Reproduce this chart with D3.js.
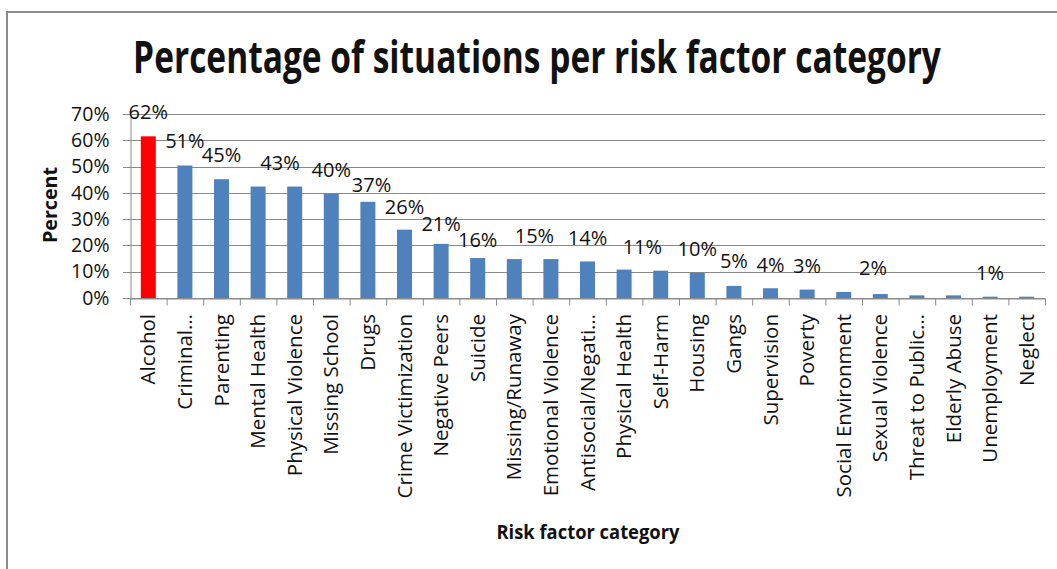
<!DOCTYPE html>
<html>
<head>
<meta charset="utf-8">
<script src="https://cdn.jsdelivr.net/npm/d3@7"></script>
<style>
  html, body { margin: 0; padding: 0; background: #fff; }
  svg { display: block; }
  text { font-family: "Open Sans", "Noto Sans", sans-serif; fill: #111; }
</style>
</head>
<body>
<svg id="chart" width="1057" height="569"></svg>
<script>
// ---- data ----
const categories = [
  "Alcohol", "Criminal\u2026", "Parenting", "Mental Health", "Physical Violence",
  "Missing School", "Drugs", "Crime Victimization", "Negative Peers", "Suicide",
  "Missing/Runaway", "Emotional Violence", "Antisocial/Negati\u2026", "Physical Health", "Self-Harm",
  "Housing", "Gangs", "Supervision", "Poverty", "Social Environment",
  "Sexual Violence", "Threat to Public\u2026", "Elderly Abuse", "Unemployment", "Neglect"
];
const values = [
  0.615, 0.504, 0.452, 0.424, 0.424,
  0.397, 0.366, 0.260, 0.206, 0.152,
  0.148, 0.148, 0.139, 0.108, 0.104,
  0.096, 0.046, 0.037, 0.032, 0.023,
  0.015, 0.010, 0.010, 0.005, 0.005
];
const highlighted = ["Alcohol"];
const yTicks = [0, 0.1, 0.2, 0.3, 0.4, 0.5, 0.6, 0.7];
// data labels as placed in the original (category position, value level)
const labelTexts  = ["62%","51%","45%","43%","40%","37%","26%","21%","16%","15%","14%","11%","10%","5%","4%","3%","2%","1%"];
const labelAt     = [0, 1, 2, 3.6, 5, 6.1, 7, 8, 9, 10.55, 12, 13.5, 15, 16, 17, 18, 19.8, 23];
const labelLevel  = [0.681, 0.571, 0.518, 0.487, 0.461, 0.404, 0.320, 0.256, 0.195, 0.210, 0.203, 0.168, 0.161, 0.115, 0.100, 0.096, 0.088, 0.070];
const titleText = "Percentage of situations per risk factor category";
const yTitle = "Percent";
const xTitle = "Risk factor category";

// ---- layout ----
const svg = d3.select("#chart");
const plot = { left: 130, right: 1045, top: 114, bottom: 298 };
const gridColor = "#8a8a8a";
const blue = "#4f81bd", red = "#ff0000";

// outer chart border
svg.append("rect")
  .attr("x", 7).attr("y", 12).attr("width", 1070).attr("height", 600)
  .attr("fill", "none").attr("stroke", "#8c8c8c").attr("stroke-width", 2);

const x = d3.scaleBand().domain(categories).range([plot.left, plot.right]).padding(0);
const xPos = d3.scaleLinear().domain([0, categories.length]).range([plot.left, plot.right]);
const y = d3.scaleLinear().domain([0, 0.7]).range([plot.bottom, plot.top]);

// gridlines
svg.append("g").selectAll("line").data(yTicks).join("line")
  .attr("x1", plot.left - 7).attr("x2", plot.right)
  .attr("y1", d => Math.round(y(d)) + 0.5).attr("y2", d => Math.round(y(d)) + 0.5)
  .attr("stroke", gridColor).attr("stroke-width", 1);

// y axis
const yAxis = d3.axisLeft(y).tickValues(yTicks).tickFormat(d3.format(".0%")).tickSize(0).tickPadding(21);
const gy = svg.append("g").attr("transform", `translate(${plot.left + 0.5},0)`).call(yAxis);
gy.select(".domain").attr("stroke", gridColor);
gy.selectAll("text").attr("font-size", "19.5px").attr("font-family", "Open Sans").attr("fill", "#111");

// bars
const barW = x.bandwidth() * 0.41;
svg.append("g").selectAll("rect").data(categories).join("rect")
  .attr("x", d => x(d) + (x.bandwidth() - barW) / 2)
  .attr("width", barW)
  .attr("y", (d, i) => y(values[i]))
  .attr("height", (d, i) => y(0) - y(values[i]))
  .attr("fill", d => highlighted.includes(d) ? red : blue);

// x axis
const xAxis = d3.axisBottom(xPos).tickValues(d3.range(0, categories.length + 1)).tickFormat("").tickSizeOuter(0).tickSizeInner(7);
const gx = svg.append("g").attr("transform", `translate(0,${plot.bottom + 0.5})`).call(xAxis);
gx.select(".domain").attr("stroke", gridColor);
gx.selectAll(".tick line").attr("stroke", gridColor);

// category labels
svg.append("g").selectAll("text").data(categories).join("text")
  .attr("transform", d => `translate(${x(d) + x.bandwidth() / 2},314) rotate(-90)`)
  .attr("text-anchor", "end").attr("dy", "0.35em")
  .attr("font-size", "20.5px")
  .text(d => d);

// data labels
svg.append("g").selectAll("text").data(labelTexts).join("text")
  .attr("x", (d, i) => xPos(labelAt[i] + 0.5))
  .attr("y", (d, i) => y(labelLevel[i]))
  .attr("text-anchor", "middle")
  .attr("font-size", "20px")
  .text(d => d);

// title (condensed to the original's width by a horizontal scale)
const title = svg.append("text")
  .attr("text-anchor", "middle")
  .attr("font-size", "44px").attr("font-weight", "bold")
  .attr("fill", "#000")
  .text(titleText);
const tLen = title.node().getComputedTextLength();
title.attr("transform", `translate(537,73) scale(${808 / tLen},1)`);

// y title
svg.append("text")
  .attr("transform", "translate(57,205) rotate(-90)")
  .attr("text-anchor", "middle")
  .attr("font-size", "19px").attr("font-weight", "bold")
  .attr("textLength", 76).attr("lengthAdjust", "spacingAndGlyphs")
  .attr("fill", "#000")
  .text(yTitle);

// x title
svg.append("text")
  .attr("x", 588).attr("y", 539).attr("text-anchor", "middle")
  .attr("font-size", "19px").attr("font-weight", "bold")
  .attr("textLength", 183).attr("lengthAdjust", "spacingAndGlyphs")
  .attr("fill", "#000")
  .text(xTitle);
</script>
</body>
</html>
